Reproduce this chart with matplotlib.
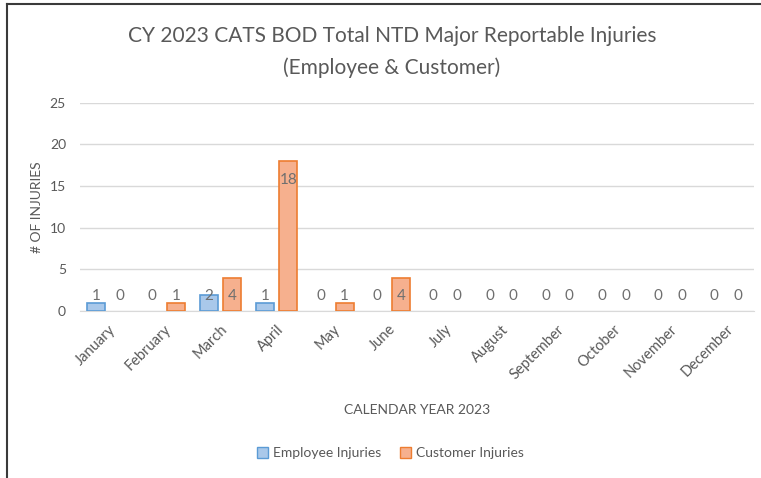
import matplotlib.pyplot as plt
import numpy as np
from matplotlib.patches import Patch
from matplotlib.lines import Line2D

months = ["January", "February", "March", "April", "May", "June", "July",
          "August", "September", "October", "November", "December"]
employee = [1, 0, 2, 1, 0, 0, 0, 0, 0, 0, 0, 0]
customer = [0, 1, 4, 18, 1, 4, 0, 0, 0, 0, 0, 0]

plt.rcParams['font.family'] = ['Lato', 'DejaVu Sans']
grey = '#595959'

fig = plt.figure(figsize=(7.61, 4.78), dpi=100)
ax = fig.add_axes([0.105, 0.349, 0.886, 0.436])

x = np.arange(len(months))
w = 0.32
# no outline on empty bars
lw1 = [1.2 if v else 0 for v in employee]
lw2 = [1.2 if v else 0 for v in customer]
b1 = ax.bar(x - w / 2 - 0.05, employee, w, color='#a9c8ea', edgecolor='#5b9bd5', linewidth=lw1, zorder=3)
b2 = ax.bar(x + w / 2 + 0.05, customer, w, color='#f6b08e', edgecolor='#ed7d31', linewidth=lw2, zorder=3)

# data labels
for bars, vals in ((b1, employee), (b2, customer)):
    for r, v in zip(bars, vals):
        yy = max(v - 2.3, 1.85)
        ax.text(r.get_x() + r.get_width() / 2, yy, str(v), ha='center', va='center',
                fontsize=11, color='#6f6f6f', zorder=4)

ax.set_xlim(-0.5, 11.5)
ax.set_ylim(0, 25)
ax.set_yticks(range(0, 26, 5))
ax.yaxis.grid(True, color='#d9d9d9', linewidth=1, zorder=0)
ax.set_axisbelow(True)
for s in ['top', 'right', 'left']:
    ax.spines[s].set_visible(False)
ax.spines['bottom'].set_color('#d9d9d9')
ax.tick_params(axis='both', length=0, colors=grey, labelsize=10)
ax.tick_params(axis='y', pad=10)
ax.tick_params(axis='x', pad=8, labelsize=10.5)
ax.set_xticks(x)
ax.set_xticklabels(months, rotation=45, ha='right', rotation_mode='anchor')

ax.set_ylabel('# OF INJURIES', color=grey, fontsize=10, labelpad=5)
ax.set_xlabel('CALENDAR YEAR 2023', color=grey, fontsize=10, labelpad=16)

fig.text(0.515, 0.891, 'CY 2023 CATS BOD Total NTD Major Reportable Injuries\n(Employee & Customer)',
         ha='center', va='center', fontsize=15, color=grey, linespacing=1.7)

handles = [Patch(facecolor='#a9c8ea', edgecolor='#5b9bd5', label='Employee Injuries'),
           Patch(facecolor='#f6b08e', edgecolor='#ed7d31', label='Customer Injuries')]
fig.legend(handles=handles, loc='center', bbox_to_anchor=(0.513, 0.052), ncol=2, frameon=False,
           fontsize=10, labelcolor=grey, handlelength=0.8, handleheight=0.8, handletextpad=0.3,
           columnspacing=1.4)

# outer border (top and left)
fig.add_artist(Line2D([7 / 761, 1], [1 - 4 / 478, 1 - 4 / 478], color='#3a3a3a', linewidth=1.5, transform=fig.transFigure))
fig.add_artist(Line2D([7 / 761, 7 / 761], [0, 1 - 4 / 478], color='#3a3a3a', linewidth=1.5, transform=fig.transFigure))

fig.savefig('out.png', dpi=100)
